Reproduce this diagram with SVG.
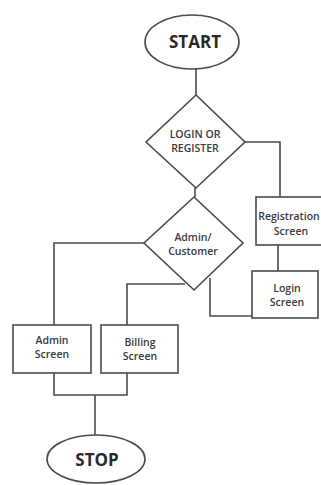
<svg xmlns="http://www.w3.org/2000/svg" width="321" height="485" viewBox="0 0 321 485">
<style>
.s{fill:#fff;stroke:#4a4a4a;stroke-width:1.6}
.c{fill:none;stroke:#4a4a4a;stroke-width:1.6}
.t{font-family:"Open Sans","Noto Sans",sans-serif;font-size:10.5px;font-weight:600;fill:#3a3a3a;text-anchor:middle}
.b{font-family:"Open Sans","Noto Sans",sans-serif;font-weight:bold;fill:#2a2a2a;text-anchor:middle}
</style>
<rect width="321" height="485" fill="#fff"/>
<g id="connectors">
<path class="c" d="M196 69V95"/>
<path class="c" d="M245 142H280V197"/>
<path class="c" d="M195 188V197"/>
<path class="c" d="M278 245V271"/>
<path class="c" d="M144 243H54V325"/>
<path class="c" d="M185 284H127V325"/>
<path class="c" d="M210 278V316H252"/>
<path class="c" d="M54 373V395H127V373M95 395V435"/>
</g>
<g id="start">
<ellipse class="s" cx="192" cy="42" rx="47" ry="27"/>
<text class="b" x="195" y="48" font-size="17">START</text>
</g>
<g id="login-register">
<polygon class="s" points="196,95 245,142 196,188 146,142"/>
<text class="t" x="195" y="138">LOGIN OR</text>
<text class="t" x="195" y="152">REGISTER</text>
</g>
<g id="registration">
<rect class="s" x="256" y="197" width="74" height="48"/>
<text class="t" x="289" y="220" font-size="9.5">Registration</text>
<text class="t" x="291" y="235">Screen</text>
</g>
<g id="login-screen">
<rect class="s" x="252" y="271" width="66" height="47"/>
<text class="t" x="287" y="292">Login</text>
<text class="t" x="287" y="306">Screen</text>
</g>
<g id="admin-customer">
<polygon class="s" points="194,197 243,243 194,290 144,243"/>
<text class="t" x="193" y="241">Admin/</text>
<text class="t" x="193" y="255">Customer</text>
</g>
<g id="admin-screen">
<rect class="s" x="13" y="325" width="78" height="48"/>
<text class="t" x="52" y="344">Admin</text>
<text class="t" x="52" y="358">Screen</text>
</g>
<g id="billing-screen">
<rect class="s" x="101" y="325" width="77" height="48"/>
<text class="t" x="140" y="346">Billing</text>
<text class="t" x="140" y="360">Screen</text>
</g>
<g id="stop">
<ellipse class="s" cx="96" cy="459" rx="49" ry="24"/>
<text class="b" x="97" y="466" font-size="17">STOP</text>
</g>
</svg>
